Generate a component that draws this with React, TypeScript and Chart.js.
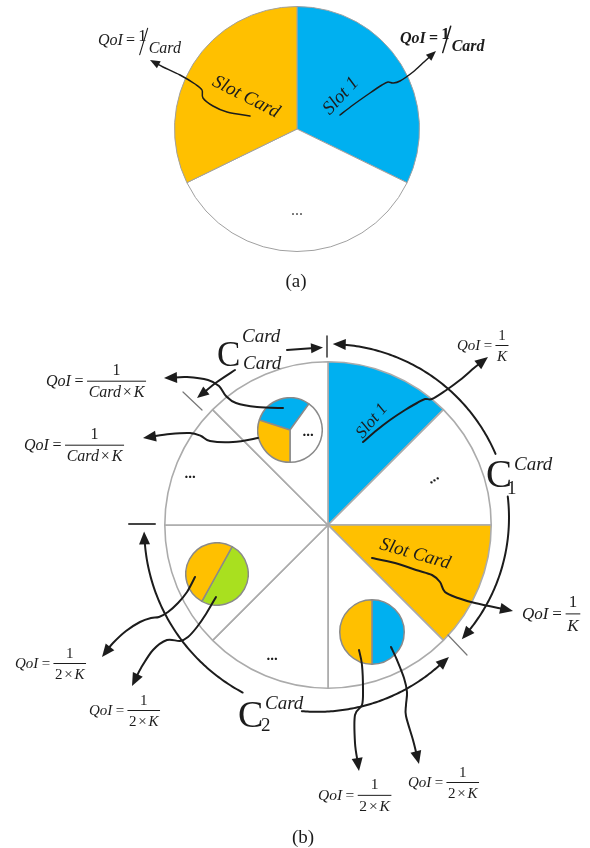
import React, { useEffect, useRef } from 'react';
import { Chart, registerables } from 'chart.js';

Chart.register(...registerables);

const BLUE = '#00B0F0';
const ORANGE = '#FFC000';
const GREEN = '#A9E01F';
const WHITE = '#FFFFFF';
const INK = '#1c1c1c';
const SERIF = '"Liberation Serif", "DejaVu Serif", serif';

// ---- (a) one round of Card slots ----
const slotsA = ['Slot 1', '...', 'Slot Card'];
const sharesA = [116, 128, 116];
const coloursA = [BLUE, WHITE, ORANGE];

// ---- (b) K slots ----
const slotsB = ['Slot 1', '...', 'Slot Card', 'shared', '...', 'shared', '...', 'shared'];
const sharesB = [1, 1, 1, 1, 1, 1, 1, 1];
const coloursB = [BLUE, WHITE, ORANGE, WHITE, WHITE, WHITE, WHITE, WHITE];

// sub-slot pies
const subTopLabels = ['Slot 1', '...', 'Slot Card'];
const subTopShares = [108, 144, 108];
const subTopColours = [BLUE, WHITE, ORANGE];

const subLeftLabels = ['green', 'orange'];
const subLeftShares = [180, 180];
const subLeftColours = [GREEN, ORANGE];

const subRightLabels = ['Slot 1', 'Slot Card'];
const subRightShares = [180, 180];
const subRightColours = [BLUE, ORANGE];

type P = [number, number];

function font(size: number, style = '') {
  return `${style} ${size}px ${SERIF}`.trim();
}

function smoothPath(ctx: CanvasRenderingContext2D, pts: P[]) {
  ctx.moveTo(pts[0][0], pts[0][1]);
  for (let i = 0; i < pts.length - 1; i++) {
    const p0 = pts[Math.max(i - 1, 0)];
    const p1 = pts[i];
    const p2 = pts[i + 1];
    const p3 = pts[Math.min(i + 2, pts.length - 1)];
    ctx.bezierCurveTo(
      p1[0] + (p2[0] - p0[0]) / 6, p1[1] + (p2[1] - p0[1]) / 6,
      p2[0] - (p3[0] - p1[0]) / 6, p2[1] - (p3[1] - p1[1]) / 6,
      p2[0], p2[1]
    );
  }
}

function head(ctx: CanvasRenderingContext2D, tip: P, ux: number, uy: number, len: number, wid: number) {
  const bx = tip[0] - ux * len;
  const by = tip[1] - uy * len;
  const px = -uy, py = ux;
  ctx.beginPath();
  ctx.moveTo(tip[0], tip[1]);
  ctx.lineTo(bx + px * wid / 2, by + py * wid / 2);
  ctx.lineTo(bx - px * wid / 2, by - py * wid / 2);
  ctx.closePath();
  ctx.fillStyle = INK;
  ctx.fill();
}

function arrowCurve(ctx: CanvasRenderingContext2D, pts: P[], lw = 2, len = 13, wid = 11) {
  const n = pts.length;
  const tip = pts[n - 1];
  const prev = pts[n - 2];
  const dx = tip[0] - prev[0], dy = tip[1] - prev[1];
  const L = Math.hypot(dx, dy);
  const ux = dx / L, uy = dy / L;
  const end: P = [tip[0] - ux * len * 0.7, tip[1] - uy * len * 0.7];
  ctx.beginPath();
  smoothPath(ctx, [...pts.slice(0, n - 1), end]);
  ctx.lineWidth = lw;
  ctx.strokeStyle = INK;
  ctx.stroke();
  head(ctx, tip, ux, uy, len, wid);
}

const CX = 328, CY = 525;

function arcArrow(ctx: CanvasRenderingContext2D, a1: number, r1: number, a2: number, r2: number, lw = 2, len = 13, wid = 11) {
  const A1 = a1 * Math.PI / 180, A2 = a2 * Math.PI / 180;
  const sgn = A2 > A1 ? 1 : -1;
  const stopA = A2 - sgn * (len * 0.7) / r2;
  const N = 80;
  ctx.beginPath();
  for (let i = 0; i <= N; i++) {
    const t = i / N;
    const a = A1 + (stopA - A1) * t;
    const r = r1 + (r2 - r1) * t;
    const x = CX + r * Math.cos(a), y = CY + r * Math.sin(a);
    if (i === 0) ctx.moveTo(x, y); else ctx.lineTo(x, y);
  }
  ctx.lineWidth = lw;
  ctx.strokeStyle = INK;
  ctx.stroke();
  const tip: P = [CX + r2 * Math.cos(A2), CY + r2 * Math.sin(A2)];
  const ux = -Math.sin(A2) * sgn, uy = Math.cos(A2) * sgn;
  head(ctx, tip, ux, uy, len, wid);
}

function line(ctx: CanvasRenderingContext2D, a: P, b: P, color: string, lw: number) {
  ctx.beginPath();
  ctx.moveTo(a[0], a[1]);
  ctx.lineTo(b[0], b[1]);
  ctx.strokeStyle = color;
  ctx.lineWidth = lw;
  ctx.stroke();
}

function text(ctx: CanvasRenderingContext2D, s: string, x: number, y: number, f: string, align: CanvasTextAlign = 'left', color = INK) {
  ctx.font = f;
  ctx.textAlign = align;
  ctx.textBaseline = 'alphabetic';
  ctx.fillStyle = color;
  ctx.fillText(s, x, y);
}

function rotText(ctx: CanvasRenderingContext2D, s: string, x: number, y: number, deg: number, f: string, color = INK) {
  ctx.save();
  ctx.translate(x, y);
  ctx.rotate(deg * Math.PI / 180);
  ctx.font = f;
  ctx.textAlign = 'center';
  ctx.textBaseline = 'middle';
  ctx.fillStyle = color;
  ctx.fillText(s, 0, 0);
  ctx.restore();
}

type Seg = [string, boolean];

function qoiFrac(ctx: CanvasRenderingContext2D, x: number, base: number, size: number, den: Seg[]) {
  text(ctx, 'QoI', x, base, font(size, 'italic'));
  ctx.font = font(size, 'italic');
  let cx = x + ctx.measureText('QoI').width + size * 0.22;
  text(ctx, '=', cx, base, font(size));
  ctx.font = font(size);
  cx += ctx.measureText('=').width + size * 0.25;
  const widths = den.map(([s, it]) => {
    ctx.font = font(size, it ? 'italic' : '');
    return ctx.measureText(s).width;
  });
  const gap = size * 0.12;
  const denW = widths.reduce((a, b) => a + b, 0) + gap * (den.length - 1);
  const lineW = denW + size * 0.15;
  const lineY = base - size * 0.3;
  line(ctx, [cx, lineY], [cx + lineW, lineY], INK, 1);
  text(ctx, '1', cx + lineW / 2, lineY - size * 0.38, font(size), 'center');
  let dx = cx + (lineW - denW) / 2;
  den.forEach(([s, it], i) => {
    text(ctx, s, dx, lineY + size * 1.0, font(size, it ? 'italic' : ''));
    dx += widths[i] + gap;
  });
}

function qoiSlash(ctx: CanvasRenderingContext2D, x: number, base: number, size: number, bold: boolean) {
  const it = bold ? 'italic bold' : 'italic';
  const up = bold ? 'bold' : '';
  text(ctx, 'QoI', x, base, font(size, it));
  ctx.font = font(size, it);
  let cx = x + ctx.measureText('QoI').width + size * 0.2;
  text(ctx, '=', cx, base, font(size, up));
  ctx.font = font(size, up);
  cx += ctx.measureText('=').width + size * 0.2;
  text(ctx, '1', cx, base - size * 0.25, font(size * 1.05, up));
  ctx.font = font(size * 1.05, up);
  const w1 = ctx.measureText('1').width;
  line(ctx, [cx + w1 + 1, base - size * 1.05], [cx + w1 - 7, base + size * 0.6], INK, bold ? 1.5 : 1.1);
  text(ctx, 'Card', cx + w1 + 2, base + size * 0.5, font(size, it));
}

function cLabel(ctx: CanvasRenderingContext2D, x: number, base: number, cSize: number, sup: string, supX: number, supBase: number, sub: string, subX: number, subBase: number, subItalic: boolean, s: number) {
  text(ctx, 'C', x, base, font(cSize));
  text(ctx, sup, supX, supBase, font(s, 'italic'));
  text(ctx, sub, subX, subBase, font(s, subItalic ? 'italic' : ''));
}

function drawAnnotations(ctx: CanvasRenderingContext2D) {
  ctx.save();
  ctx.lineCap = 'round';
  ctx.lineJoin = 'round';

  // ===== (a) =====
  qoiSlash(ctx, 98, 45, 16, false);
  qoiSlash(ctx, 400, 43, 16, true);
  rotText(ctx, 'Slot Card', 246, 97, 27, font(19, 'italic'));
  rotText(ctx, 'Slot 1', 341, 96, -47, font(19, 'italic'));
  text(ctx, '...', 297, 215, font(16), 'center', '#555');
  arrowCurve(ctx, [[250, 116], [227, 112], [213, 106], [203, 98], [202, 90], [195, 84], [180, 75], [163, 67], [150, 60]], 1.5, 10, 8);
  arrowCurve(ctx, [[340, 115], [353, 105], [370, 93], [382, 85], [388, 82], [393, 83], [400, 81], [413, 72], [424, 62], [436, 51]], 1.5, 10, 8);
  text(ctx, '(a)', 296, 287, font(19), 'center');

  // ===== (b) ticks =====
  line(ctx, [327, 336], [327, 357], '#333', 1.5);
  line(ctx, [183, 392], [202, 410], '#777', 1.2);
  line(ctx, [129, 524], [155, 524], '#444', 2);
  line(ctx, [448, 635], [467, 655], '#777', 1.2);

  // slot labels & ellipses
  rotText(ctx, 'Slot 1', 372, 421, -50, font(17, 'italic'));
  rotText(ctx, 'Slot Card', 415, 554, 16, font(19, 'italic'));
  text(ctx, '...', 190, 478, font(15, 'bold'), 'center');
  rotText(ctx, '...', 433, 478, -34, font(15, 'bold'));
  text(ctx, '...', 272, 660, font(15, 'bold'), 'center');
  text(ctx, '...', 308, 436, font(15, 'bold'), 'center');

  // C labels
  cLabel(ctx, 217, 366, 35, 'Card', 242, 342, 'Card', 243, 369, true, 19);
  cLabel(ctx, 486, 487, 39, 'Card', 514, 470, '1', 507, 494, false, 19);
  cLabel(ctx, 238, 727, 38, 'Card', 265, 709, '2', 261, 731, false, 19);

  // arcs
  arcArrow(ctx, -23, 182, -88.5, 181);
  arcArrow(ctx, -9, 182, 40.5, 176);
  arcArrow(ctx, 98, 188, 47.5, 179);
  arcArrow(ctx, 117, 188, 178, 184);

  // C_Card arrows
  arrowCurve(ctx, [[287, 350], [323, 347.5]], 2, 12, 10);
  arrowCurve(ctx, [[235, 370], [217, 382], [197, 398]], 2, 12, 10);

  // connectors
  arrowCurve(ctx, [[363, 442], [377, 430], [390, 420], [405, 410], [417, 403], [425, 399], [432, 399], [445, 391], [460, 380], [474, 368], [488, 357]]);
  arrowCurve(ctx, [[283, 408], [257, 407], [236, 403], [226, 396], [219, 386], [208, 380], [187, 377], [164, 378]]);
  arrowCurve(ctx, [[258, 438], [233, 442], [210, 441], [201, 436], [190, 433], [170, 434], [143, 438]]);
  arrowCurve(ctx, [[372, 558], [395, 563], [416, 570], [432, 575], [440, 582], [445, 592], [458, 598], [475, 603], [513, 611]]);
  arrowCurve(ctx, [[195, 577], [187, 592], [178, 603], [168, 612], [159, 617], [151, 618], [140, 622], [126, 631], [113, 643], [102, 657]]);
  arrowCurve(ctx, [[216, 597], [206, 614], [197, 627], [188, 637], [180, 641], [167, 640], [153, 650], [141, 668], [132, 686]]);
  arrowCurve(ctx, [[359, 650], [362, 665], [363, 690], [362, 705], [355, 715], [355, 743], [359, 771]]);
  arrowCurve(ctx, [[391, 647], [397, 660], [404, 678], [407, 692], [406, 705], [406, 716], [413, 740], [419, 764]]);

  // QoI expressions
  const cardK: Seg[] = [['Card', true], ['\u00d7', false], ['K', true]];
  const twoK: Seg[] = [['2', false], ['\u00d7', false], ['K', true]];
  const K: Seg[] = [['K', true]];
  qoiFrac(ctx, 46, 386, 16, cardK);
  qoiFrac(ctx, 24, 450, 16, cardK);
  qoiFrac(ctx, 457, 350, 15, K);
  qoiFrac(ctx, 522, 619, 17, K);
  qoiFrac(ctx, 15, 668, 15, twoK);
  qoiFrac(ctx, 89, 715, 15, twoK);
  qoiFrac(ctx, 318, 800, 15.5, twoK);
  qoiFrac(ctx, 408, 787, 15, twoK);

  text(ctx, '(b)', 303, 843, font(19), 'center');
  ctx.restore();
}

type PieProps = {
  left: number; top: number; size: number;
  labels: string[]; values: number[]; colors: string[];
  rotation: number; borderColor: string; borderWidth: number;
};

function Pie(p: PieProps) {
  const ref = useRef<HTMLCanvasElement>(null);
  useEffect(() => {
    const chart = new Chart(ref.current!, {
      type: 'pie',
      data: {
        labels: p.labels,
        datasets: [{
          data: p.values,
          backgroundColor: p.colors,
          borderColor: p.borderColor,
          borderWidth: p.borderWidth,
          hoverOffset: 0,
          offset: 0,
        }],
      },
      options: {
        responsive: false,
        animation: false,
        events: [],
        rotation: p.rotation,
        layout: { padding: 0 },
        plugins: { legend: { display: false }, tooltip: { enabled: false } },
      },
    });
    return () => chart.destroy();
  }, []);
  return (
    <canvas
      ref={ref}
      width={p.size}
      height={p.size}
      style={{ position: 'absolute', left: p.left, top: p.top, width: p.size, height: p.size }}
    />
  );
}

function Overlay() {
  const ref = useRef<HTMLCanvasElement>(null);
  useEffect(() => {
    const chart = new Chart(ref.current!, {
      type: 'scatter',
      data: { datasets: [] },
      options: {
        responsive: false,
        animation: false,
        events: [],
        layout: { padding: 0 },
        scales: { x: { display: false }, y: { display: false } },
        plugins: { legend: { display: false }, tooltip: { enabled: false } },
      },
      plugins: [{
        id: 'annotations',
        afterDraw(c: any) { drawAnnotations(c.ctx); },
      }],
    });
    return () => chart.destroy();
  }, []);
  return (
    <canvas
      ref={ref}
      width={590}
      height={848}
      style={{ position: 'absolute', left: 0, top: 0, width: 590, height: 848, pointerEvents: 'none' }}
    />
  );
}

export default function App() {
  useEffect(() => {
    document.body.style.margin = '0';
    document.body.style.overflow = 'hidden';
    document.body.style.background = '#fff';
  }, []);
  return (
    <div style={{ position: 'relative', width: 590, height: 848, background: '#fff', overflow: 'hidden' }}>
      <Pie left={174} top={6} size={246} labels={slotsA} values={sharesA} colors={coloursA} rotation={0} borderColor="#a0a0a0" borderWidth={1} />
      <Pie left={164} top={361} size={328} labels={slotsB} values={sharesB} colors={coloursB} rotation={0} borderColor="#ababab" borderWidth={1.6} />
      <Pie left={257} top={397} size={66} labels={subTopLabels} values={subTopShares} colors={subTopColours} rotation={288} borderColor="#8a8a8a" borderWidth={1.5} />
      <Pie left={185} top={542} size={64} labels={subLeftLabels} values={subLeftShares} colors={subLeftColours} rotation={29} borderColor="#8a8a8a" borderWidth={1.5} />
      <Pie left={339} top={599} size={66} labels={subRightLabels} values={subRightShares} colors={subRightColours} rotation={0} borderColor="#8a8a8a" borderWidth={1.5} />
      <Overlay />
    </div>
  );
}
